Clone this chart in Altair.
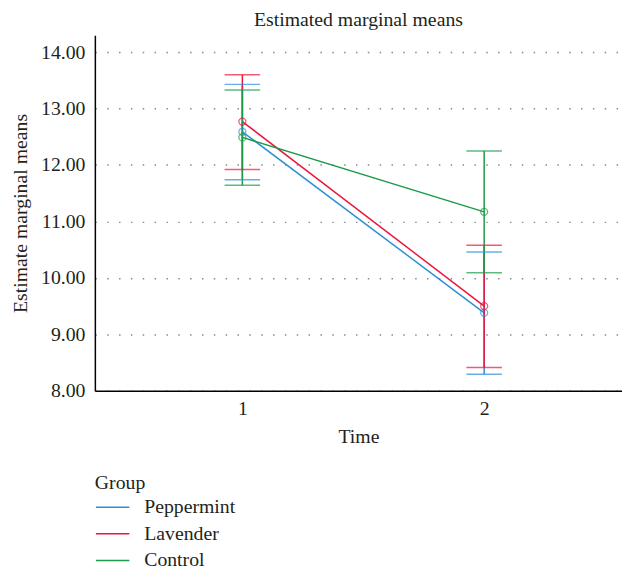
import altair as alt
import pandas as pd

groups = ["Peppermint", "Lavender", "Control"]
times = [1, 2]
means = {
    "Peppermint": [12.59, 9.38],
    "Lavender": [12.77, 9.50],
    "Control": [12.49, 11.17],
}
lower = {
    "Peppermint": [11.74, 8.29],
    "Lavender": [11.92, 8.41],
    "Control": [11.64, 10.09],
}
upper = {
    "Peppermint": [13.43, 10.46],
    "Lavender": [13.60, 10.58],
    "Control": [13.33, 12.25],
}
colors = ["#2b8fd8", "#e8173f", "#1c9a48"]
y_ticks = [8, 9, 10, 11, 12, 13, 14]

rows = []
for g in groups:
    for i, t in enumerate(times):
        rows.append({"Group": g, "Time": t, "mean": means[g][i],
                     "lo": lower[g][i], "hi": upper[g][i]})
df = pd.DataFrame(rows)

FONT = "Liberation Serif"
TXT = "#231f20"
FS = 20

xscale = alt.Scale(domain=[0.39, 2.57], nice=False, zero=False)
yscale = alt.Scale(domain=[8, 14.3], nice=False, zero=False)
cscale = alt.Scale(domain=groups, range=colors)

base = alt.Chart(df)

x_enc = alt.X("Time:Q", scale=xscale,
              axis=alt.Axis(values=times, format="d", title="Time", grid=False,
                            ticks=False, domainColor="#000000", domainWidth=1.5,
                            labelPadding=8, titlePadding=8))
y_enc = alt.Y("mean:Q", scale=yscale,
              axis=alt.Axis(values=y_ticks, format=".2f", title="Estimate marginal means",
                            grid=True, gridDash=[1.5, 10.5], gridColor="#888888",
                            gridWidth=1.5, ticks=False, domainColor="#000000",
                            domainWidth=1.5, labelPadding=10, titlePadding=10))
color_enc = alt.Color("Group:N", scale=cscale, sort=groups,
                      legend=alt.Legend(title="Group", orient="none", legendX=0,
                                        legendY=444, symbolType="stroke",
                                        symbolSize=1150, symbolStrokeWidth=1.5,
                                        labelOffset=14, rowPadding=7,
                                        clipHeight=20, titlePadding=4))

rules = base.mark_rule(strokeWidth=1.5).encode(
    x="Time:Q", y=alt.Y("lo:Q", scale=yscale), y2="hi:Q",
    color=alt.Color("Group:N", scale=cscale, legend=None))
caps_lo = base.mark_tick(orient="horizontal", size=36, thickness=1.5).encode(
    x="Time:Q", y=alt.Y("lo:Q", scale=yscale),
    color=alt.Color("Group:N", scale=cscale, legend=None))
caps_hi = base.mark_tick(orient="horizontal", size=36, thickness=1.5).encode(
    x="Time:Q", y=alt.Y("hi:Q", scale=yscale),
    color=alt.Color("Group:N", scale=cscale, legend=None))
lines = base.mark_line(strokeWidth=1.5).encode(
    x=x_enc, y=y_enc, color=color_enc)
pts = base.mark_point(shape="circle", size=50, filled=False, strokeWidth=1.3).encode(
    x="Time:Q", y="mean:Q", color=alt.Color("Group:N", scale=cscale, legend=None))

chart = alt.layer(lines, rules, caps_lo, caps_hi, pts).properties(
    width=534, height=360,
    title=alt.TitleParams("Estimated marginal means", fontSize=FS, font=FONT,
                          fontWeight="normal", color=TXT, offset=5),
    autosize=alt.AutoSizeParams(type="none"),
    padding={"left": 88, "top": 24, "right": 0, "bottom": 178},
).configure_view(stroke=None).configure_axis(
    labelFont=FONT, titleFont=FONT, labelFontSize=FS, titleFontSize=FS,
    labelColor=TXT, titleColor=TXT, titleFontWeight="normal"
).configure_legend(
    labelFont=FONT, titleFont=FONT, labelFontSize=FS, titleFontSize=FS,
    labelColor=TXT, titleColor=TXT, titleFontWeight="normal"
)

chart.save("out.html", embed_options={"renderer": "svg", "actions": False})
